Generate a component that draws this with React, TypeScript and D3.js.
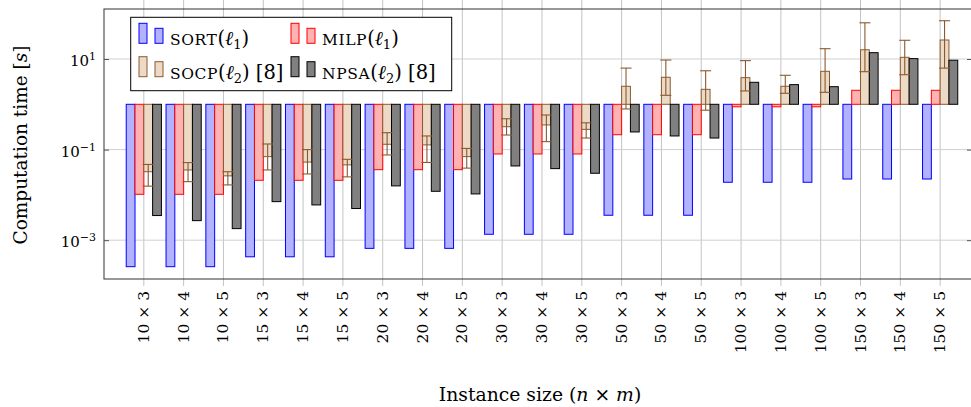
import React, { useEffect, useRef } from 'react';
import * as d3 from 'd3';

// instance sizes (n x m)
const categories = [
  '10 × 3', '10 × 4', '10 × 5', '15 × 3', '15 × 4', '15 × 5', '20 × 3', '20 × 4', '20 × 5',
  '30 × 3', '30 × 4', '30 × 5', '50 × 3', '50 × 4', '50 × 5', '100 × 3', '100 × 4', '100 × 5',
  '150 × 3', '150 × 4', '150 × 5',
];

// computation times [s]
const sortTimes = [2.6e-4, 2.6e-4, 2.6e-4, 4.3e-4, 4.3e-4, 4.3e-4, 6.6e-4, 6.6e-4, 6.6e-4, 1.35e-3, 1.35e-3, 1.35e-3, 3.55e-3, 3.55e-3, 3.55e-3, 0.019, 0.019, 0.019, 0.0224, 0.0224, 0.0224];
const milpTimes = [0.0103, 0.0103, 0.0103, 0.021, 0.021, 0.021, 0.036, 0.036, 0.036, 0.08, 0.08, 0.08, 0.213, 0.213, 0.213, 0.88, 0.88, 0.88, 2.04, 2.04, 2.04];
const socpTimes = [0.0325, 0.0355, 0.0263, 0.07, 0.053, 0.046, 0.131, 0.127, 0.07, 0.32, 0.35, 0.28, 2.5, 3.95, 2.14, 3.88, 2.5, 5.35, 16, 10.9, 26.3];
const socpLow = [0.0156, 0.0196, 0.0166, 0.0355, 0.029, 0.025, 0.076, 0.052, 0.039, 0.21, 0.15, 0.18, 0.79, 1.58, 0.74, 1.97, 1.75, 1.84, 5.25, 4.5, 6.3];
const socpHigh = [0.047, 0.0516, 0.0325, 0.133, 0.1, 0.061, 0.236, 0.2, 0.106, 0.48, 0.58, 0.39, 6.3, 9.5, 5.5, 9.2, 4.37, 16.9, 63, 25.9, 70];
const npsaTimes = [3.5e-3, 2.7e-3, 1.8e-3, 7.1e-3, 6.0e-3, 5.0e-3, 0.0158, 0.012, 0.0105, 0.0435, 0.038, 0.03, 0.245, 0.2, 0.18, 3.06, 2.72, 2.45, 13.8, 10.2, 9.4];

const yTicks = [10, 0.1, 0.001];
const yTickExp = ['1', '−1', '−3'];

const FONT = '"DejaVu Serif", "Liberation Serif", serif';
const BROWN = '#8a5a2e';

const App = () => {
  const chartRef = useRef<SVGSVGElement | null>(null);

  useEffect(() => {
    const width = 971;
    const height = 407;
    const svg = d3.select(chartRef.current);
    svg.selectAll('*').remove();

    const left = 104, right = 972, top = 9, bottom = 279;

    const x = d3.scaleLinear().domain([-1, 20.8]).range([left, right]);
    const y = d3.scaleLog().domain([Math.pow(10, -3.857), Math.pow(10, 2.104)]).range([bottom, top]);
    const bw = 8.8;

    const series = [
      { name: 'SORT', sub: '1', ref: '', values: sortTimes, fill: 'rgb(178,178,255)', stroke: 'blue' },
      { name: 'MILP', sub: '1', ref: '', values: milpTimes, fill: 'rgb(255,178,178)', stroke: 'red' },
      { name: 'SOCP', sub: '2', ref: ' [8]', values: socpTimes, fill: 'rgb(236,217,198)', stroke: BROWN },
      { name: 'NPSA', sub: '2', ref: ' [8]', values: npsaTimes, fill: 'rgb(128,128,128)', stroke: 'black' },
    ];

    svg.attr('width', width).attr('height', height);

    // grid
    const grid = svg.append('g');
    categories.forEach((_, i) => {
      grid.append('line')
        .attr('x1', x(i)).attr('x2', x(i))
        .attr('y1', 0).attr('y2', bottom + 7)
        .attr('stroke', '#c4c4c4').attr('stroke-width', 1);
    });
    yTicks.forEach((t) => {
      grid.append('line')
        .attr('x1', left).attr('x2', right)
        .attr('y1', y(t)).attr('y2', y(t))
        .attr('stroke', '#d0d0d0').attr('stroke-width', 1);
    });

    // bars
    series.forEach((s, k) => {
      const off = (k - 1.5) * bw;
      svg.append('g')
        .selectAll('rect')
        .data(s.values)
        .enter()
        .append('rect')
        .attr('x', (d, i) => x(i) + off - bw / 2)
        .attr('y', (d) => Math.min(y(d), y(1)))
        .attr('width', bw)
        .attr('height', (d) => Math.abs(y(d) - y(1)))
        .attr('fill', s.fill)
        .attr('stroke', s.stroke)
        .attr('stroke-width', 1);
    });

    // error bars on SOCP
    const eb = svg.append('g').attr('stroke', BROWN).attr('stroke-width', 1.1).attr('fill', 'none');
    socpTimes.forEach((_, i) => {
      const cx = x(i) + 0.5 * bw;
      eb.append('line').attr('x1', cx).attr('x2', cx).attr('y1', y(socpLow[i])).attr('y2', y(socpHigh[i]));
      [socpLow[i], socpHigh[i]].forEach((v) => {
        eb.append('line').attr('x1', cx - 5.5).attr('x2', cx + 5.5).attr('y1', y(v)).attr('y2', y(v));
      });
    });

    // frame
    svg.append('rect')
      .attr('x', left).attr('y', top)
      .attr('width', right - left).attr('height', bottom - top)
      .attr('fill', 'none').attr('stroke', '#333').attr('stroke-width', 1);

    // y axis
    const yAxis = svg.append('g')
      .attr('transform', `translate(${left},0)`)
      .call(d3.axisLeft(y).tickValues(yTicks).tickSize(-5).tickPadding(8).tickFormat(() => ''));
    yAxis.select('.domain').remove();
    yAxis.selectAll('line').attr('stroke', '#555');
    yAxis.selectAll('.tick text').each(function (d, i) {
      const t = d3.select(this);
      t.attr('font-family', FONT).attr('font-size', 15).attr('fill', 'black').attr('dy', '0.45em');
      t.append('tspan').text('10');
      t.append('tspan').attr('dy', '-0.55em').attr('font-size', 11).text(yTickExp[i]);
    });
    const yRight = svg.append('g')
      .attr('transform', `translate(${right},0)`)
      .call(d3.axisRight(y).tickValues(yTicks).tickSize(-5).tickFormat(() => ''));
    yRight.select('.domain').remove();
    yRight.selectAll('line').attr('stroke', '#555');

    // x tick labels
    const xl = svg.append('g');
    categories.forEach((c, i) => {
      xl.append('text')
        .attr('transform', `translate(${x(i) + 5},291) rotate(-90)`)
        .attr('text-anchor', 'end')
        .attr('font-family', FONT)
        .attr('font-size', 15.5)
        .text(c);
    });

    // axis titles
    const xt = svg.append('text')
      .attr('x', 540).attr('y', 401)
      .attr('text-anchor', 'middle')
      .attr('font-family', FONT)
      .attr('font-size', 18.8);
    xt.append('tspan').text('Instance size (');
    xt.append('tspan').attr('font-style', 'italic').text('n');
    xt.append('tspan').text(' × ');
    xt.append('tspan').attr('font-style', 'italic').text('m');
    xt.append('tspan').text(')');

    const yt = svg.append('text')
      .attr('transform', 'translate(27,145) rotate(-90)')
      .attr('text-anchor', 'middle')
      .attr('font-family', FONT)
      .attr('font-size', 18.5);
    yt.append('tspan').text('Computation time [');
    yt.append('tspan').attr('font-style', 'italic').text('s');
    yt.append('tspan').text(']');

    // legend
    const lg = svg.append('g');
    lg.append('rect')
      .attr('x', 130.7).attr('y', 17.3).attr('width', 321).attr('height', 73.4)
      .attr('fill', 'white').attr('stroke', 'black').attr('stroke-width', 1);
    series.forEach((s, k) => {
      const lx = k % 2 === 0 ? 139 : 291;
      const base = k < 2 ? 43.3 : 76.7;
      lg.append('rect').attr('x', lx).attr('y', base - 20).attr('width', 8).attr('height', 20)
        .attr('fill', s.fill).attr('stroke', s.stroke).attr('stroke-width', 1);
      lg.append('rect').attr('x', lx + 16).attr('y', base - 15).attr('width', 8).attr('height', 15)
        .attr('fill', s.fill).attr('stroke', s.stroke).attr('stroke-width', 1);
      const t = lg.append('text')
        .attr('x', lx + 31).attr('y', base + 2)
        .attr('font-family', FONT).attr('font-size', 19.5);
      t.append('tspan').attr('font-size', 15.5).attr('letter-spacing', 0.6).text(s.name);
      t.append('tspan').text('(');
      t.append('tspan').attr('font-style', 'italic').text('ℓ');
      t.append('tspan').attr('dy', 4).attr('font-size', 13).text(s.sub);
      t.append('tspan').attr('dy', -4).text(')' + s.ref);
    });
  }, []);

  return (
    <svg ref={chartRef} style={{ position: 'absolute', left: 0, top: 0, background: 'white' }} />
  );
};

export default App;
